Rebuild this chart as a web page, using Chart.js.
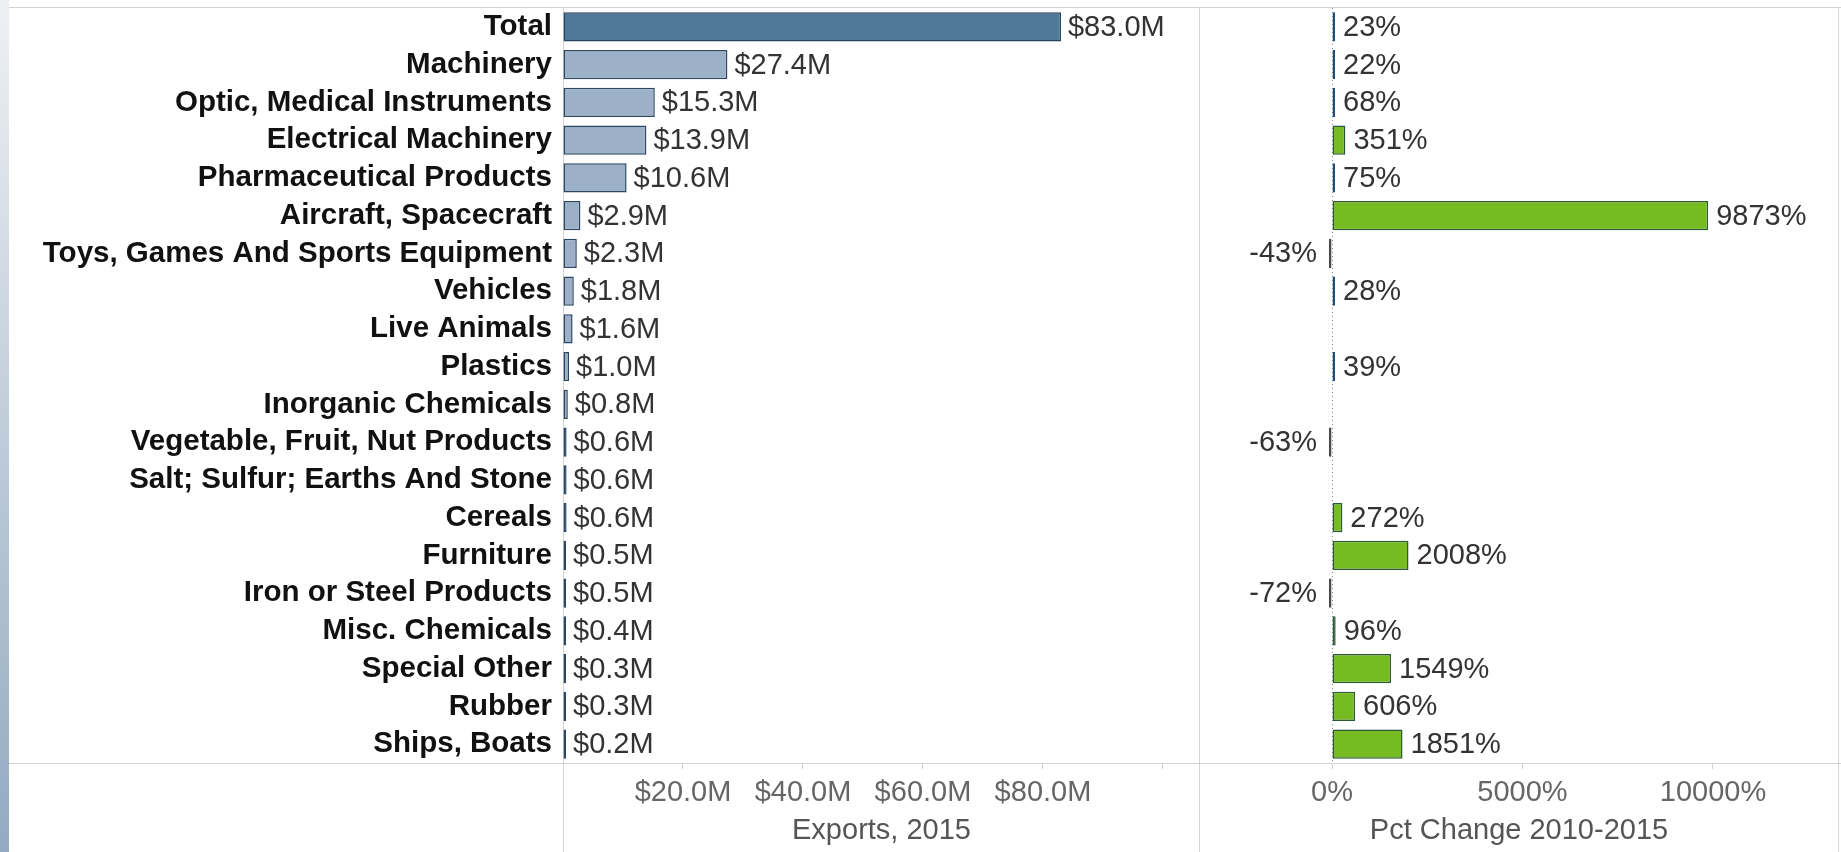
<!DOCTYPE html>
<html>
<head>
<meta charset="utf-8">
<script src="https://cdn.jsdelivr.net/npm/chart.js@4.4.0/dist/chart.umd.min.js"></script>
<style>
html,body{margin:0;padding:0;background:#fff;width:1841px;height:852px;overflow:hidden}
#strip{position:absolute;left:0;top:0;width:9px;height:852px;background:linear-gradient(#eef1f4,#c9d4df 40%,#93aac0)}
#c1{position:absolute;left:0;top:0}
#c2{position:absolute;left:1200px;top:0}
</style>
</head>
<body>
<div id="strip"></div>
<canvas id="c1" width="1200" height="852"></canvas>
<canvas id="c2" width="641" height="852"></canvas>
<script>
// ---- data ----
const categories = [
  "Total", "Machinery", "Optic, Medical Instruments", "Electrical Machinery",
  "Pharmaceutical Products", "Aircraft, Spacecraft", "Toys, Games And Sports Equipment",
  "Vehicles", "Live Animals", "Plastics", "Inorganic Chemicals",
  "Vegetable, Fruit, Nut Products", "Salt; Sulfur; Earths And Stone", "Cereals",
  "Furniture", "Iron or Steel Products", "Misc. Chemicals", "Special Other",
  "Rubber", "Ships, Boats"
];
const exports2015 = [83.0, 27.4, 15.3, 13.9, 10.6, 2.9, 2.3, 1.8, 1.6, 1.0, 0.8, 0.6, 0.6, 0.6, 0.5, 0.5, 0.4, 0.3, 0.3, 0.2];
const pctChange = [23, 22, 68, 351, 75, 9873, -43, 28, null, 39, null, -63, null, 272, 2008, -72, 96, 1549, 606, 1851];
const exportTicks = [0, 20, 40, 60, 80, 100];
const pctTicks = [0, 5000, 10000];
const exportTitle = "Exports, 2015";
const pctTitle = "Pct Change 2010-2015";

// ---- styles ----
const FONT = '"Liberation Sans", Arial, sans-serif';
Chart.defaults.font.family = FONT;
Chart.defaults.animation = false;
const lineColor = '#d3d3d3';

function fixAxisX(scale) { scale.height = 89; scale.paddingLeft = 0; scale.paddingRight = 0; }
function fixAxisY(w) { return function (scale) { scale.width = w; scale.paddingTop = 0; scale.paddingBottom = 0; }; }

function valueLabels(fmt, posGap, negGap) {
  return {
    id: 'valueLabels',
    afterDatasetsDraw(chart) {
      const ctx = chart.ctx;
      const ds = chart.data.datasets[0];
      const meta = chart.getDatasetMeta(0);
      ctx.save();
      ctx.font = '29px ' + FONT;
      ctx.fillStyle = '#333';
      ctx.textBaseline = 'middle';
      meta.data.forEach((el, i) => {
        const v = ds.data[i];
        if (v === null || v === undefined) return;
        if (v >= 0) { ctx.textAlign = 'left'; ctx.fillText(fmt(v), el.x + posGap, el.y + 1); }
        else { ctx.textAlign = 'right'; ctx.fillText(fmt(v), el.x - negGap, el.y + 1); }
      });
      ctx.restore();
    }
  };
}

const frameLeft = {
  id: 'frameLeft',
  beforeDatasetsDraw(chart) {
    const { ctx, chartArea: a, width, height } = chart;
    ctx.save();
    ctx.strokeStyle = lineColor; ctx.lineWidth = 1;
    ctx.beginPath();
    ctx.moveTo(9, a.top - 0.5); ctx.lineTo(width, a.top - 0.5);
    ctx.moveTo(9, a.bottom + 0.5); ctx.lineTo(width, a.bottom + 0.5);
    ctx.moveTo(a.left + 0.5, a.top); ctx.lineTo(a.left + 0.5, height);
    ctx.moveTo(width - 0.5, a.top); ctx.lineTo(width - 0.5, height);
    ctx.stroke();
    ctx.restore();
  }
};

const frameRight = {
  id: 'frameRight',
  beforeDatasetsDraw(chart) {
    const { ctx, chartArea: a, width, height } = chart;
    ctx.save();
    ctx.strokeStyle = lineColor; ctx.lineWidth = 1;
    ctx.beginPath();
    ctx.moveTo(0, a.top - 0.5); ctx.lineTo(width, a.top - 0.5);
    ctx.moveTo(0, a.bottom + 0.5); ctx.lineTo(width, a.bottom + 0.5);
    ctx.moveTo(a.right + 0.5, a.top); ctx.lineTo(a.right + 0.5, height);
    ctx.stroke();
    const x0 = Math.round(chart.scales.x.getPixelForValue(0)) + 0.5;
    ctx.strokeStyle = '#8a8a8a';
    ctx.setLineDash([1, 3]);
    ctx.beginPath();
    ctx.moveTo(x0, a.top); ctx.lineTo(x0, a.bottom);
    ctx.stroke();
    ctx.restore();
  }
};

// ---- left chart: exports ----
new Chart(document.getElementById('c1'), {
  type: 'bar',
  data: {
    labels: categories,
    datasets: [{
      data: exports2015,
      backgroundColor: categories.map((c, i) => i === 0 ? '#4f7899' : '#9cb1c8'),
      borderColor: categories.map((c, i) => i === 0 ? '#26425d' : '#2a4763'),
      borderWidth: 1.5,
      borderSkipped: false,
      minBarLength: 3,
      categoryPercentage: 1,
      barPercentage: 0.78
    }]
  },
  options: {
    indexAxis: 'y',
    responsive: false,
    maintainAspectRatio: false,
    layout: { padding: { top: 8, left: 0, right: 0, bottom: 0 } },
    plugins: { legend: { display: false }, tooltip: { enabled: false } },
    scales: {
      y: {
        type: 'category',
        offset: true,
        grid: { display: false, drawTicks: false },
        border: { display: false },
        ticks: { color: '#111', font: { size: 29.5, weight: 'bold' }, padding: 11, autoSkip: false },
        afterFit: fixAxisY(563)
      },
      x: {
        type: 'linear',
        min: 0,
        max: 106.17,
        grid: { drawOnChartArea: false, drawTicks: true, tickLength: 6, color: lineColor },
        border: { display: false },
        afterBuildTicks: (s) => { s.ticks = exportTicks.map(v => ({ value: v })); },
        ticks: {
          color: '#666', font: { size: 29 }, padding: 7, autoSkip: false, maxRotation: 0,
          callback: (v) => (v === 0 || v === 100) ? '' : '$' + v.toFixed(1) + 'M'
        },
        title: { display: true, text: exportTitle, color: '#555', font: { size: 29, lineHeight: 1.2 }, padding: { top: 0, bottom: 4 } },
        afterFit: fixAxisX
      }
    }
  },
  plugins: [frameLeft, valueLabels(v => '$' + v.toFixed(1) + 'M', 7, 7)]
});

// ---- right chart: pct change ----
function pctFill(v) {
  if (v === null) return 'rgba(0,0,0,0)';
  if (v < 0) return '#5c5c5c';
  if (v < 90) return '#1f4e79';
  if (v < 200) return '#3f7f52';
  return '#77bb23';
}
function pctBorder(v) {
  if (v === null) return 'rgba(0,0,0,0)';
  if (v < 0) return '#4a4a4a';
  if (v < 90) return '#1f4e79';
  return '#2c5a35';
}

new Chart(document.getElementById('c2'), {
  type: 'bar',
  data: {
    labels: categories,
    datasets: [{
      data: pctChange,
      backgroundColor: pctChange.map(pctFill),
      borderColor: pctChange.map(pctBorder),
      borderWidth: 1.5,
      borderSkipped: false,
      minBarLength: 3,
      categoryPercentage: 1,
      barPercentage: 0.78
    }]
  },
  options: {
    indexAxis: 'y',
    responsive: false,
    maintainAspectRatio: false,
    layout: { padding: { top: 8, left: 0, right: 3, bottom: 0 } },
    plugins: { legend: { display: false }, tooltip: { enabled: false } },
    scales: {
      y: {
        type: 'category',
        offset: true,
        display: false
      },
      x: {
        type: 'linear',
        min: -3465,
        max: 13281,
        grid: { drawOnChartArea: false, drawTicks: true, tickLength: 6, color: lineColor },
        border: { display: false },
        afterBuildTicks: (s) => { s.ticks = pctTicks.map(v => ({ value: v })); },
        ticks: {
          color: '#666', font: { size: 29 }, padding: 7, autoSkip: false, maxRotation: 0,
          callback: (v) => v + '%'
        },
        title: { display: true, text: pctTitle, color: '#555', font: { size: 29, lineHeight: 1.2 }, padding: { top: 0, bottom: 4 } },
        afterFit: fixAxisX
      }
    }
  },
  plugins: [frameRight, valueLabels(v => v + '%', 8, 12)]
});
</script>
</body>
</html>
